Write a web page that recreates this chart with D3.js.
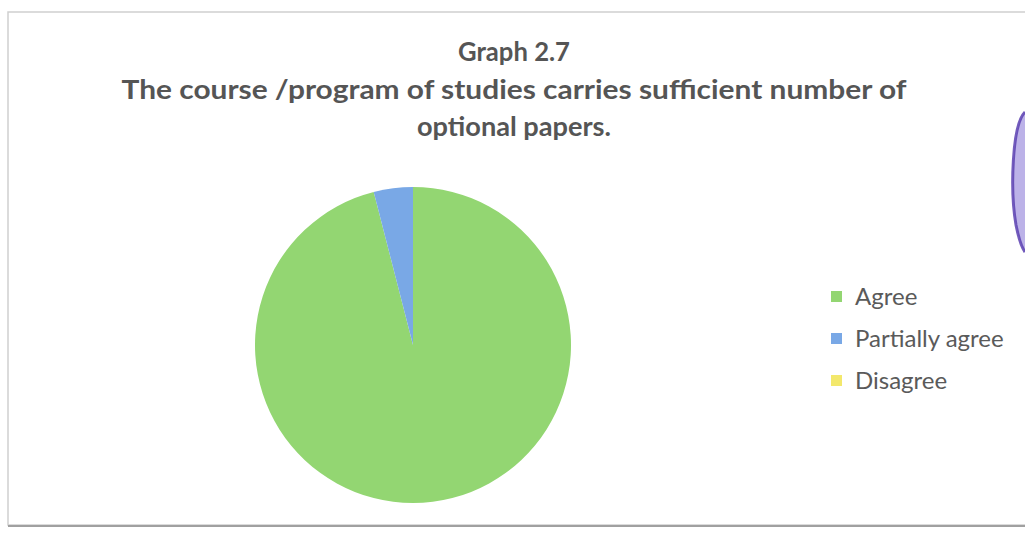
<!DOCTYPE html>
<html><head><meta charset="utf-8">
<script src="https://cdn.jsdelivr.net/npm/d3@7"></script>
<style>html,body{margin:0;padding:0;background:#fff;}</style>
</head><body>
<svg id="chart" width="1025" height="533"></svg>
<script>
const categories = ["Agree", "Partially agree", "Disagree"];
const values = [96, 4, 0];
const colors = ["#93d672", "#79a8e6", "#f3e86c"];
const titleLines = ["Graph 2.7", "The course /program of studies carries sufficient number of", "optional papers."];

const svg = d3.select("#chart");
// frame
svg.append("rect").attr("x", 8).attr("y", 12).attr("width", 1030).attr("height", 513)
  .attr("fill", "none").attr("stroke", "#cfcfcf").attr("stroke-width", 1.5);
svg.append("line").attr("x1", 8).attr("x2", 1025).attr("y1", 526).attr("y2", 526)
  .attr("stroke", "#a0a0a0").attr("stroke-width", 2);

// title
const tY = [61, 99, 136];
const tW = [112, 785, 194];
svg.selectAll("text.title").data(titleLines).join("text")
  .attr("class", "title")
  .attr("x", 514).attr("y", (d, i) => tY[i])
  .attr("text-anchor", "middle")
  .attr("font-family", "Lato, 'Open Sans', sans-serif")
  .attr("font-weight", "bold").attr("font-size", 26)
  .attr("textLength", (d, i) => tW[i]).attr("lengthAdjust", "spacingAndGlyphs")
  .attr("fill", "#555")
  .text(d => d);

// pie
const cx = 413, cy = 345, r = 158;
const pie = d3.pie().sort(null).value(d => d)(values);
const arc = d3.arc().innerRadius(0).outerRadius(r);
const color = d3.scaleOrdinal().domain(categories).range(colors);
svg.append("g").attr("transform", `translate(${cx},${cy})`)
  .selectAll("path").data(pie).join("path")
  .attr("d", arc)
  .attr("fill", (d, i) => color(categories[i]));

// legend
const lg = svg.append("g").attr("transform", "translate(831,297)");
const rows = lg.selectAll("g").data(categories).join("g")
  .attr("transform", (d, i) => `translate(0,${i * 42})`);
rows.append("rect").attr("x", 0).attr("y", -6).attr("width", 11).attr("height", 11)
  .attr("fill", d => color(d));
rows.append("text").attr("x", 24).attr("y", 0).attr("dy", "0.35em")
  .attr("font-family", "Lato, 'Open Sans', sans-serif").attr("font-size", 24)
  .attr("fill", "#5a5a5a").text(d => d);

// stamp edge (decorative)
svg.append("path")
  .attr("d", "M1025,112 C1012,125 1010,190 1016,225 C1019,240 1022,248 1025,252 Z")
  .attr("fill", "#8f7fd8").attr("opacity", 0.6);
svg.append("path")
  .attr("d", "M1025,112 C1012,125 1010,190 1016,225 C1019,240 1022,248 1025,252")
  .attr("fill", "none").attr("stroke", "#5a3fb0").attr("stroke-width", 3).attr("opacity", 0.85);
</script>
</body></html>
